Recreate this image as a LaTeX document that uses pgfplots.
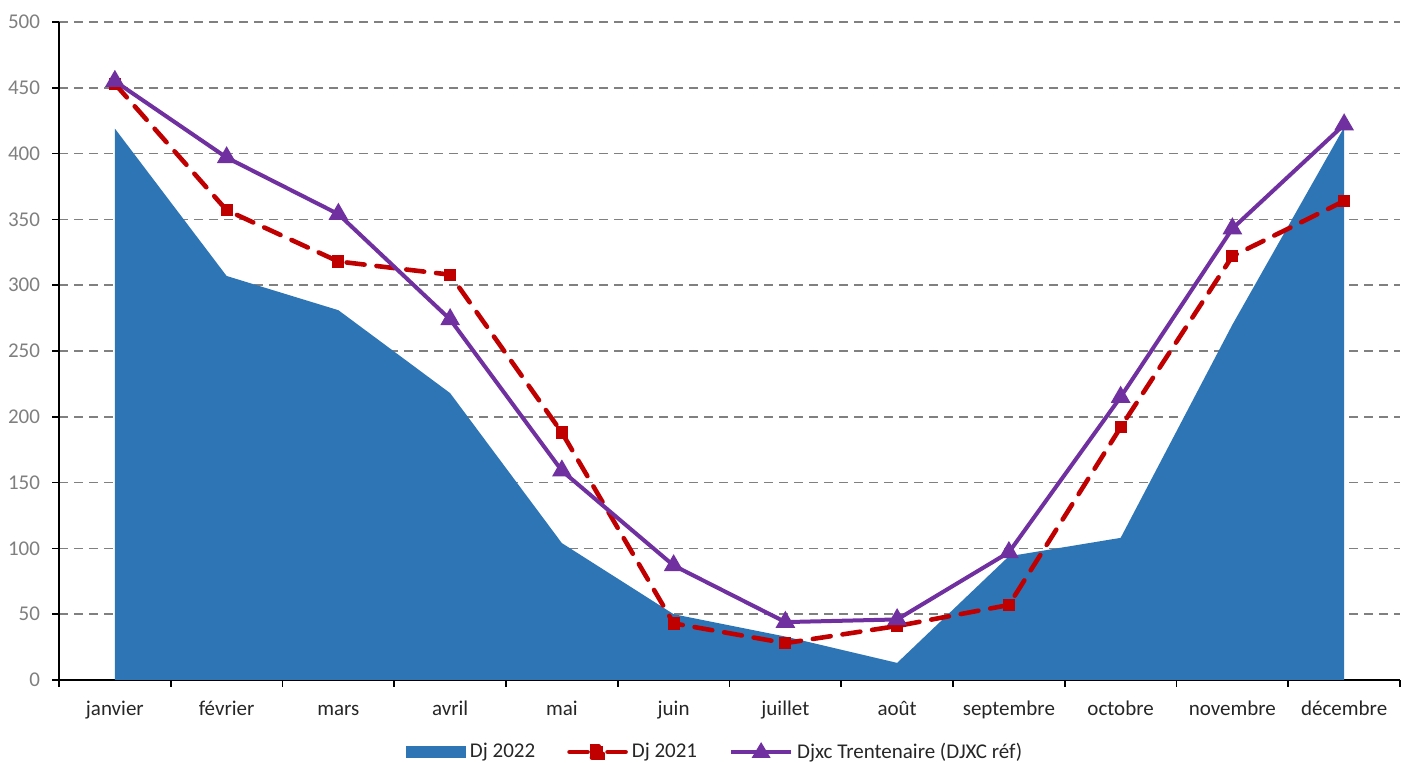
\documentclass[border=0pt]{standalone}
\usepackage{fontspec}
\setmainfont{Carlito}
\usepackage{pgfplots}
\pgfplotsset{compat=1.18}
\definecolor{dja}{HTML}{2E75B6}
\definecolor{djb}{HTML}{C00000}
\definecolor{djc}{HTML}{7030A0}
\definecolor{gridg}{HTML}{808080}
\definecolor{ticky}{HTML}{7F7F7F}
\definecolor{tickx}{HTML}{262626}

\begin{document}
\begin{tikzpicture}
\begin{axis}[
    scale only axis,
    width=670.5pt, height=329pt,
    xmin=-0.5, xmax=11.5,
    ymin=0, ymax=500,
    ytick={0,50,...,500},
    xtick={-0.5,0.5,...,11.5},
    x tick label as interval,
    xticklabels={janvier,février,mars,avril,mai,juin,juillet,août,septembre,octobre,novembre,décembre},
    axis lines*=left,
    axis line style={black, line width=0.9pt, -},
    tick align=outside,
    major tick length=3.5pt,
    tick style={black, line width=0.8pt},
    ymajorgrids,
    grid style={gridg, line width=0.8pt, dash pattern=on 4.5pt off 3pt},
    /pgf/number format/assume math mode=true,
    yticklabel style={font=\fontsize{10.5}{12}\selectfont, text=ticky, xshift=-2.5pt},
    xticklabel style={font=\fontsize{10.5}{12}\selectfont, text=tickx, text height=7.5pt, text depth=2pt, yshift=-3pt},
    legend style={at={(0.49,-0.1094)}, anchor=center, draw=none, fill=none, inner sep=1pt,
        font=\fontsize{10.5}{12}\selectfont, text=tickx, legend columns=-1,
        /tikz/every even column/.append style={column sep=14pt}},
    legend cell align=left,
    clip=false,
]
\addplot[fill=dja, draw=none,
    legend image code/.code={\fill[dja] (0pt,-3pt) rectangle (30pt,3pt);}]
    coordinates {(0,419) (1,307) (2,281) (3,218) (4,104) (5,50) (6,33) (7,13) (8,94) (9,108) (10,270) (11,420)} \closedcycle;
\addlegendentry{Dj 2022}
\addplot[djb, line width=2.3pt, dash pattern=on 9pt off 6pt, line cap=round,
    mark=square*, mark size=2.8pt, mark options={solid, fill=djb, draw=djb, line width=0pt},
    legend image code/.code={\draw[djb, line width=2.3pt, line cap=round] (1pt,0pt) -- (10pt,0pt) (20pt,0pt) -- (29pt,0pt);
        \fill[djb] (12.2pt,-2.8pt) rectangle (17.8pt,2.8pt);}]
    coordinates {(0,453) (1,357) (2,318) (3,308) (4,188) (5,43) (6,28) (7,41) (8,57) (9,192) (10,322) (11,364)};
\addlegendentry{Dj 2021}
\addplot[djc, line width=2pt,
    mark=triangle*, mark size=3.7pt, mark options={solid, fill=djc, draw=djc},
    legend image code/.code={\draw[djc, line width=2pt] (0pt,0pt) -- (30pt,0pt);
        \fill[djc] (15pt,3pt) -- (18pt,-2pt) -- (12pt,-2pt) -- cycle;}]
    coordinates {(0,455) (1,397) (2,354) (3,274) (4,159) (5,87) (6,44) (7,46) (8,97) (9,215) (10,343) (11,422)};
\addlegendentry{Djxc Trentenaire (DJXC réf)}
\end{axis}
\pgfresetboundingbox
\path ([xshift=-29.5pt,yshift=11pt]current axis.north west) rectangle ([xshift=1pt,yshift=-41.5pt]current axis.south east);
\end{tikzpicture}
\end{document}
